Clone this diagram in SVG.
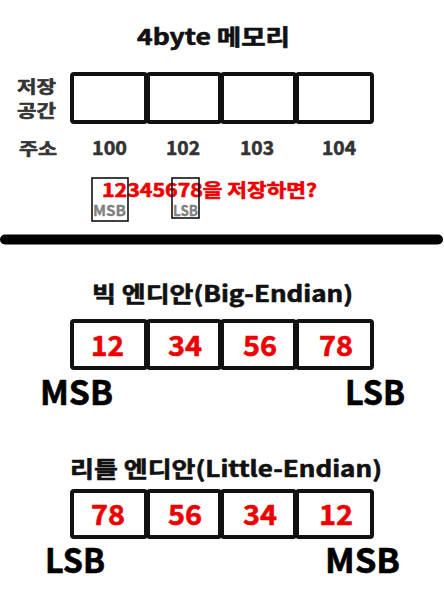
<svg xmlns="http://www.w3.org/2000/svg" width="444" height="600" viewBox="0 0 444 600">
<style>
text{font-family:"Noto Sans CJK KR","Noto Sans",sans-serif;font-weight:bold;stroke-width:0.6;stroke-linejoin:round}
.title{font-size:22px;fill:#111;stroke:#111}
.lbl{font-size:17px;fill:#333;stroke:#333}
.addr{font-size:19px;fill:#333;stroke:#333}
.cell{fill:#fff;stroke:#111;stroke-width:4;rx:2}
.num{font-size:28px;fill:#e00;stroke:#e00}
.big{font-size:34px;fill:#000;stroke:#000}
.sm{font-size:15px;fill:#808080;stroke:#808080;stroke-width:0.3}
.mk{fill:none;stroke:#111;stroke-width:1.6}
</style>
<g id="memory">
<text class="title" x="137" y="45" textLength="153" lengthAdjust="spacingAndGlyphs">4byte 메모리</text>
<text class="lbl" x="17" y="93" textLength="39" lengthAdjust="spacingAndGlyphs">저장</text>
<text class="lbl" x="17" y="117" textLength="39" lengthAdjust="spacingAndGlyphs">공간</text>
<rect class="cell" x="72" y="74" width="74" height="48"/>
<rect class="cell" x="148" y="74" width="72" height="48"/>
<rect class="cell" x="222" y="74" width="73" height="48"/>
<rect class="cell" x="297" y="74" width="75" height="48"/>
<text class="lbl" x="19" y="155" textLength="38" lengthAdjust="spacingAndGlyphs">주소</text>
<text class="addr" x="92" y="155" textLength="35" lengthAdjust="spacingAndGlyphs">100</text>
<text class="addr" x="166" y="155" textLength="34" lengthAdjust="spacingAndGlyphs">102</text>
<text class="addr" x="240" y="155" textLength="34" lengthAdjust="spacingAndGlyphs">103</text>
<text class="addr" x="322" y="155" textLength="34" lengthAdjust="spacingAndGlyphs">104</text>
</g>
<g id="question">
<text x="102" y="197" textLength="215" lengthAdjust="spacingAndGlyphs" style="font-size:18px;fill:#e00;stroke:#e00">12345678을 저장하면?</text>
<rect class="mk" x="92" y="178" width="36" height="43"/>
<rect class="mk" x="172" y="178" width="27" height="40"/>
<text class="sm" x="93" y="216" textLength="33" lengthAdjust="spacingAndGlyphs">MSB</text>
<text class="sm" x="173" y="216" textLength="25" lengthAdjust="spacingAndGlyphs">LSB</text>
</g>
<line x1="5" y1="239.5" x2="438" y2="239.5" stroke="#000" stroke-width="10" stroke-linecap="round"/>
<g id="big-endian">
<text class="title" x="92" y="302" textLength="261" lengthAdjust="spacingAndGlyphs">빅 엔디안(Big-Endian)</text>
<rect class="cell" x="72" y="321" width="74" height="47"/>
<rect class="cell" x="148" y="321" width="72" height="47"/>
<rect class="cell" x="222" y="321" width="73" height="47"/>
<rect class="cell" x="297" y="321" width="75" height="47"/>
<text class="num" x="91" y="356" textLength="33" lengthAdjust="spacingAndGlyphs">12</text>
<text class="num" x="168" y="356" textLength="34" lengthAdjust="spacingAndGlyphs">34</text>
<text class="num" x="243" y="356" textLength="34" lengthAdjust="spacingAndGlyphs">56</text>
<text class="num" x="319" y="356" textLength="34" lengthAdjust="spacingAndGlyphs">78</text>
<text class="big" x="40" y="405" textLength="73" lengthAdjust="spacingAndGlyphs">MSB</text>
<text class="big" x="345" y="405" textLength="60" lengthAdjust="spacingAndGlyphs">LSB</text>
</g>
<g id="little-endian">
<text class="title" x="70" y="477" textLength="312" lengthAdjust="spacingAndGlyphs">리틀 엔디안(Little-Endian)</text>
<rect class="cell" x="72" y="491" width="74" height="46"/>
<rect class="cell" x="148" y="491" width="72" height="46"/>
<rect class="cell" x="222" y="491" width="73" height="46"/>
<rect class="cell" x="297" y="491" width="75" height="46"/>
<text class="num" x="91" y="525" textLength="34" lengthAdjust="spacingAndGlyphs">78</text>
<text class="num" x="168" y="525" textLength="34" lengthAdjust="spacingAndGlyphs">56</text>
<text class="num" x="243" y="525" textLength="34" lengthAdjust="spacingAndGlyphs">34</text>
<text class="num" x="319" y="525" textLength="34" lengthAdjust="spacingAndGlyphs">12</text>
<text class="big" x="45" y="573" textLength="60" lengthAdjust="spacingAndGlyphs">LSB</text>
<text class="big" x="325" y="573" textLength="75" lengthAdjust="spacingAndGlyphs">MSB</text>
</g>
</svg>
